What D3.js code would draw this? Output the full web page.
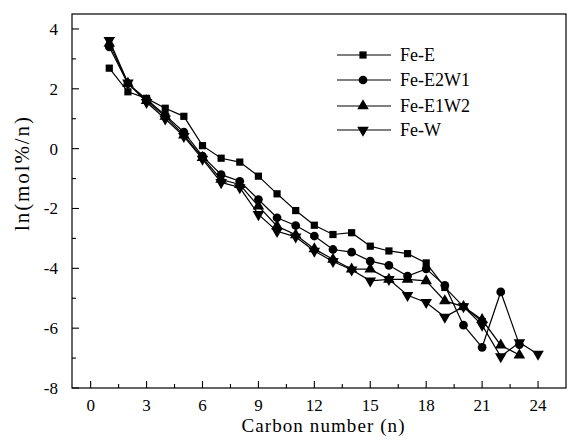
<!DOCTYPE html>
<html>
<head>
<meta charset="utf-8">
<script src="https://d3js.org/d3.v7.min.js"></script>
</head>
<body style="margin:0; background:#fff">
<svg width="574" height="441"></svg>
<script>
// Carbon numbers and ln(mol%/n) for each catalyst
const carbon = [1, 2, 3, 4, 5, 6, 7, 8, 9, 10, 11, 12, 13, 14, 15, 16, 17, 18, 19, 20, 21, 22, 23, 24];
const feE    = [2.69, 1.9, 1.68, 1.35, 1.08, 0.1, -0.32, -0.45, -0.92, -1.51, -2.07, -2.56, -2.87, -2.81, -3.26, -3.42, -3.51, -3.82, -4.64, -5.28, -5.78];
const feE2W1 = [3.4, 2.17, 1.65, 1.12, 0.55, -0.25, -0.87, -1.09, -1.7, -2.31, -2.57, -2.92, -3.37, -3.46, -3.76, -3.9, -4.26, -4.02, -4.57, -5.9, -6.64, -4.79, -6.55];
const feE1W2 = [3.52, 2.18, 1.6, 1.08, 0.45, -0.3, -1.03, -1.2, -1.92, -2.59, -2.88, -3.35, -3.7, -4.03, -4.03, -4.37, -4.37, -4.42, -5.09, -5.28, -5.72, -6.57, -6.9];
const feW    = [3.62, 2.2, 1.55, 1.0, 0.41, -0.35, -1.13, -1.3, -2.2, -2.76, -2.95, -3.42, -3.77, -4.05, -4.42, -4.37, -4.9, -5.14, -5.63, -5.28, -5.9, -6.95, -6.48, -6.87];
const seriesNames = ["Fe-E", "Fe-E2W1", "Fe-E1W2", "Fe-W"];
const xTicks = [0, 3, 6, 9, 12, 15, 18, 21, 24];
const yTicks = [-8, -6, -4, -2, 0, 2, 4];

const FONT = "Liberation Serif";

const series = [feE, feE2W1, feE1W2, feW].map((vals, i) => ({
  name: seriesNames[i],
  points: vals.map((v, j) => ({ n: carbon[j], v: v }))
}));

const svg = d3.select("svg");
const x = d3.scaleLinear().domain([-1, 25.5]).range([72, 566]);
const y = d3.scaleLinear().domain([-8, 4.5]).range([388, 14]);

// symbols: square, circle, triangle up, triangle down
const shapes = [
  { type: d3.symbolSquare, size: 52, rot: 0 },
  { type: d3.symbolCircle, size: 60, rot: 0 },
  { type: d3.symbolTriangle, size: 58, rot: 0 },
  { type: d3.symbolTriangle, size: 58, rot: 180 }
];

// frame
svg.append("rect")
  .attr("x", x.range()[0]).attr("y", y.range()[1])
  .attr("width", x.range()[1] - x.range()[0])
  .attr("height", y.range()[0] - y.range()[1])
  .attr("fill", "none").attr("stroke", "#000").attr("stroke-width", 1.2);

// x axis ticks (inward)
const xMinor = d3.range(-1.5, 25.5, 1.5).filter(d => d >= -1 && xTicks.indexOf(d) < 0);
const gx = svg.append("g");
gx.selectAll("line.maj").data(xTicks).enter().append("line")
  .attr("x1", d => x(d)).attr("x2", d => x(d))
  .attr("y1", 388).attr("y2", 381)
  .attr("stroke", "#000").attr("stroke-width", 1.1);
gx.selectAll("line.min").data(xMinor).enter().append("line")
  .attr("x1", d => x(d)).attr("x2", d => x(d))
  .attr("y1", 388).attr("y2", 384)
  .attr("stroke", "#000").attr("stroke-width", 1.1);
gx.selectAll("text").data(xTicks).enter().append("text")
  .attr("x", d => x(d)).attr("y", 411)
  .attr("text-anchor", "middle").attr("font-size", 17).attr("font-family", FONT)
  .text(d => d);

// y axis ticks (inward)
const yMinor = d3.range(-7, 5, 2);
const gy = svg.append("g");
gy.selectAll("line.maj").data(yTicks).enter().append("line")
  .attr("x1", 72).attr("x2", 79)
  .attr("y1", d => y(d)).attr("y2", d => y(d))
  .attr("stroke", "#000").attr("stroke-width", 1.1);
gy.selectAll("line.min").data(yMinor).enter().append("line")
  .attr("x1", 72).attr("x2", 76)
  .attr("y1", d => y(d)).attr("y2", d => y(d))
  .attr("stroke", "#000").attr("stroke-width", 1.1);
gy.selectAll("text").data(yTicks).enter().append("text")
  .attr("x", 58).attr("y", d => y(d) + 6)
  .attr("text-anchor", "end").attr("font-size", 17).attr("font-family", FONT)
  .text(d => d);

// axis titles
svg.append("text")
  .attr("x", 323).attr("y", 432)
  .attr("text-anchor", "middle").attr("font-size", 19).attr("font-family", FONT)
  .attr("textLength", 163).attr("lengthAdjust", "spacing")
  .text("Carbon number (n)");
svg.append("text")
  .attr("transform", "translate(29,174) rotate(-90)")
  .attr("text-anchor", "middle").attr("font-size", 21).attr("font-family", FONT)
  .attr("textLength", 114).attr("lengthAdjust", "spacing")
  .text("ln(mol%/n)");

// lines and markers
const line = d3.line().x(d => x(d.n)).y(d => y(d.v));
series.forEach((s, i) => {
  svg.append("path")
    .datum(s.points)
    .attr("d", line)
    .attr("fill", "none").attr("stroke", "#000").attr("stroke-width", 1.2);
  const sym = d3.symbol().type(shapes[i].type).size(shapes[i].size);
  svg.append("g").selectAll("path")
    .data(s.points).enter().append("path")
    .attr("d", sym)
    .attr("transform", d => `translate(${x(d.n)},${y(d.v)}) rotate(${shapes[i].rot})`)
    .attr("fill", "#000");
});

// legend
const legendRows = [55, 80, 106, 130];
series.forEach((s, i) => {
  const g = svg.append("g").attr("transform", `translate(0,${legendRows[i]})`);
  g.append("line").attr("x1", 337).attr("x2", 391).attr("y1", 0).attr("y2", 0)
    .attr("stroke", "#000").attr("stroke-width", 1.2);
  g.append("path")
    .attr("d", d3.symbol().type(shapes[i].type).size(shapes[i].size))
    .attr("transform", `translate(363,0) rotate(${shapes[i].rot})`)
    .attr("fill", "#000");
  g.append("text").attr("x", 400).attr("y", 6)
    .attr("font-size", 18).attr("font-family", FONT)
    .text(s.name);
});
</script>
</body>
</html>
